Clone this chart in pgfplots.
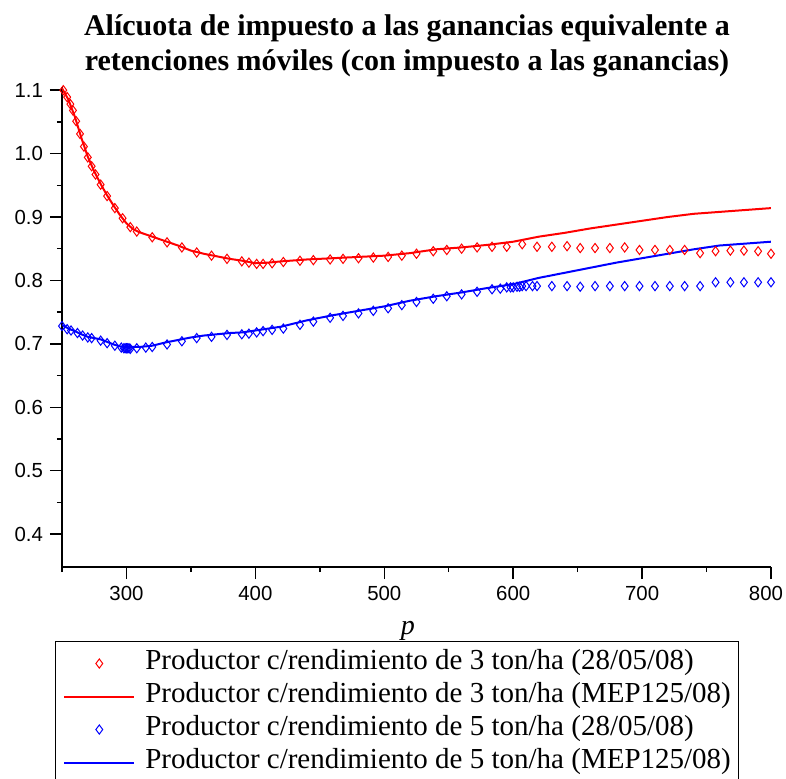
\documentclass[border=0pt]{standalone}
\usepackage{pgfplots}
\pgfplotsset{compat=1.18}
\usepackage{fontspec}
\setmainfont{Liberation Serif}
\newfontfamily\ticksfont{Liberation Sans}

\begin{document}
\begin{tikzpicture}
\path[use as bounding box] (-31pt,-105.5pt) rectangle (362pt,283.5pt);
\begin{axis}[
    scale only axis,
    width=354.5pt, height=240pt,
    xmin=250, xmax=800,
    ymin=0.348, ymax=1.105,
    axis lines*=left,
    axis line style={line width=0.8pt},
    xtick={300,400,...,800},
    xticklabels={300,400,500,600,700,800\kern5pt},
    minor xtick={250,350,...,750},
    ytick={0.4,0.5,0.6,0.7,0.8,0.9,1.0,1.1},
    minor ytick={0.45,0.55,0.65,0.75,0.85,0.95,1.05},
    tick align=outside,
    major tick length=6pt,
    minor tick length=2.5pt,
    tick style={line width=0.7pt, black},
    yticklabel style={/pgf/number format/.cd, fixed, fixed zerofill, precision=1},
    /pgf/number format/assume math mode=true,
    tick label style={font=\ticksfont\fontsize{10.2}{12}\selectfont},
    title={Alícuota de impuesto a las ganancias equivalente a\\retenciones móviles (con impuesto a las ganancias)},
    title style={font=\fontsize{15}{17.5}\selectfont\bfseries, align=center,
        at={(axis description cs:0.4866,1.127)}, anchor=north, inner sep=0pt},
    xlabel={\textit{p}},
    xlabel style={font=\fontsize{14}{16}\selectfont, at={(axis description cs:0.488,-0.133)}, anchor=center, inner sep=0pt},
    legend image code/.code={\draw[mark repeat=2,mark phase=2,#1] plot coordinates {(0pt,0pt)(17.5pt,0pt)(35pt,0pt)};},
    legend cell align=left,
    legend style={at={(axis description cs:-0.00987,-0.154)}, anchor=north west,
        draw=black, line width=0.6pt, font=\fontsize{14.5}{16}\selectfont,
        inner xsep=3.85pt, inner ysep=2.75pt, row sep=0pt, column sep=5pt,
        nodes={inner sep=0pt, text height=11pt, text depth=5.5pt}},
]
% Productor 3 ton/ha (28/05/08)
\addplot[only marks, color=red, mark=diamond, mark size=2.3pt, mark options={line width=0.5pt}] coordinates {
(251,1.100)(254,1.089)(256.5,1.078)(258.5,1.068)(261,1.051)(264,1.031)(267,1.011)(270,0.994)
(273,0.980)(276,0.967)(280,0.951)(285,0.933)(291,0.914)(297,0.898)(303,0.884)(308,0.877)
(320,0.868)(331.5,0.860)(343,0.852)(354.5,0.844)(366,0.839)(378,0.834)(389.5,0.830)(395,0.828)
(401,0.826)(406,0.826)(413,0.827)(421.7,0.829)(434.6,0.831)(445,0.832)(458,0.833)(468,0.834)
(480,0.835)(491.5,0.836)(503,0.837)(513.6,0.839)(525,0.842)(538,0.846)(548.5,0.848)(560,0.850)
(572,0.852)(583.6,0.853)(595,0.853)(607,0.857)(618.5,0.853)(630,0.853)(641.8,0.854)(652,0.851)
(663.5,0.851)(675,0.851)(686.5,0.852)(698,0.848)(710,0.848)(721.5,0.848)(733,0.848)(745,0.843)
(757,0.846)(768.5,0.847)(779,0.847)(790,0.846)(800,0.842)
};
\addlegendentry{Productor c/rendimiento de 3 ton/ha (28/05/08)}
% Productor 3 ton/ha (MEP125/08)
\addplot[color=red, line width=1pt, no marks] coordinates {
(250,1.103)(255,1.085)(260,1.058)(265,1.025)(270,0.995)(275,0.972)(280,0.952)(285,0.934)
(290,0.918)(295,0.903)(300,0.890)(305,0.881)(310,0.876)(320,0.869)(330,0.862)(340,0.855)
(350,0.847)(360,0.842)(370,0.838)(380,0.834)(390,0.831)(400,0.827)(410,0.828)(420,0.830)
(440,0.833)(460,0.835)(480,0.837)(500,0.839)(520,0.843)(540,0.849)(560,0.852)(580,0.856)
(600,0.861)(620,0.869)(640,0.875)(660,0.882)(680,0.888)(700,0.894)(720,0.900)(740,0.905)
(760,0.908)(780,0.911)(800,0.914)
};
\addlegendentry{Productor c/rendimiento de 3 ton/ha (MEP125/08)}
% Productor 5 ton/ha (28/05/08)
\addplot[only marks, color=blue, mark=diamond, mark size=2.3pt, mark options={line width=0.5pt}] coordinates {
(250,0.728)(254,0.723)(257,0.721)(262,0.717)(266,0.713)(270,0.710)(273,0.709)(280,0.705)
(285,0.701)(291,0.697)(296,0.694)(298,0.693)(299,0.693)(300,0.693)(301,0.693)(302,0.693)
(303,0.692)(308,0.693)(315,0.694)(320,0.695)(331.5,0.699)(343,0.704)(354.5,0.709)(366,0.711)
(378,0.714)(389.5,0.715)(395,0.716)(401,0.718)(406,0.720)(413,0.722)(421.7,0.724)(434.6,0.730)
(445,0.735)(458,0.741)(468,0.744)(480,0.748)(491.5,0.752)(503,0.756)(513.6,0.761)(525,0.766)
(538,0.771)(548.5,0.775)(560,0.778)(572,0.782)(583.6,0.786)(590,0.787)(595,0.789)(598,0.789)
(600,0.789)(603,0.790)(605,0.790)(607,0.791)(610,0.791)(615,0.791)(618.5,0.791)(630,0.791)
(641.8,0.791)(652,0.790)(663.5,0.791)(675,0.791)(686.5,0.791)(698,0.791)(710,0.791)(721.5,0.791)
(733,0.791)(745,0.791)(757,0.797)(768.5,0.797)(779,0.797)(790,0.797)(800,0.797)
};
\addlegendentry{Productor c/rendimiento de 5 ton/ha (28/05/08)}
% Productor 5 ton/ha (MEP125/08)
\addplot[color=blue, line width=1pt, no marks] coordinates {
(250,0.730)(255,0.724)(260,0.720)(265,0.715)(270,0.711)(280,0.707)(285,0.703)(290,0.699)
(295,0.696)(300,0.695)(310,0.695)(320,0.697)(330,0.702)(340,0.706)(350,0.710)(360,0.713)
(370,0.715)(380,0.717)(390,0.718)(400,0.721)(410,0.724)(420,0.727)(430,0.732)(440,0.737)
(460,0.745)(480,0.752)(500,0.759)(520,0.768)(540,0.775)(560,0.781)(580,0.788)(600,0.794)
(620,0.804)(640,0.812)(660,0.820)(680,0.828)(700,0.835)(720,0.842)(740,0.849)(760,0.855)
(780,0.858)(800,0.861)
};
\addlegendentry{Productor c/rendimiento de 5 ton/ha (MEP125/08)}
\end{axis}
\end{tikzpicture}
\end{document}
